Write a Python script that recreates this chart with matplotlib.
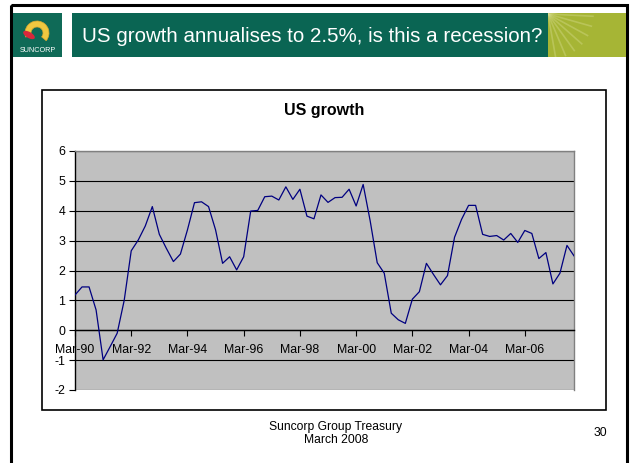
import matplotlib
matplotlib.use("Agg")
import matplotlib.pyplot as plt
import matplotlib.patches as mpatches
import numpy as np

plt.rcParams['font.family'] = ['Liberation Sans', 'DejaVu Sans']

# ---- data ----
slide_title = "US growth annualises to 2.5%, is this a recession?"
chart_title = "US growth"
footer_lines = ["Suncorp Group Treasury", "March 2008"]
page_number = "30"

# quarterly US GDP growth (% y/y), Mar-90 .. Dec-07
growth = [1.18, 1.45, 1.45, 0.68, -0.99, -0.55, -0.10, 1.00,
          2.66, 3.02, 3.49, 4.14, 3.21, 2.74, 2.30, 2.55,
          3.36, 4.27, 4.30, 4.14, 3.36, 2.24, 2.46, 2.02,
          2.46, 3.99, 4.01, 4.47, 4.49, 4.36, 4.80, 4.38,
          4.72, 3.82, 3.73, 4.53, 4.28, 4.44, 4.45, 4.72,
          4.16, 4.88, 3.66, 2.26, 1.91, 0.57, 0.35, 0.23,
          1.04, 1.29, 2.24, 1.87, 1.52, 1.83, 3.11, 3.71,
          4.18, 4.18, 3.21, 3.14, 3.17, 3.02, 3.24, 2.94,
          3.34, 3.24, 2.40, 2.60, 1.55, 1.91, 2.84, 2.49]
tick_labels = ["Mar-90", "Mar-92", "Mar-94", "Mar-96", "Mar-98",
               "Mar-00", "Mar-02", "Mar-04", "Mar-06"]
y_ticks = [-2, -1, 0, 1, 2, 3, 4, 5, 6]

W, H = 632, 463
fig = plt.figure(figsize=(W / 100, H / 100), dpi=100)
fig.patch.set_facecolor('white')

# background axes in pixel coordinates
bg = fig.add_axes([0, 0, 1, 1])
bg.set_xlim(0, W)
bg.set_ylim(H, 0)
bg.axis('off')

# slide frame
bg.add_patch(mpatches.Rectangle((11, 5), 616, 470, fill=False, ec='black', lw=2.2))

# logo box
green = '#0a6553'
bg.add_patch(mpatches.Rectangle((13, 13), 49, 44, fc='#0f6a57', ec='none'))
bg.add_patch(mpatches.Wedge((37, 33), 12, -200, 40, width=6, fc='#f0c840', ec='#d8a830', lw=0.5))
bg.add_patch(mpatches.Ellipse((29, 35), 13, 6, angle=30, fc='#d8283c', ec='none'))
bg.text(37.5, 51, "SUNCORP", color='white', fontsize=5.2, ha='center', va='center')

# title bar
bg.add_patch(mpatches.Rectangle((72, 13), 476, 44, fc=green, ec='none'))
olive = mpatches.Rectangle((548, 13), 78, 44, fc='#a6b535', ec='none')
bg.add_patch(olive)
# sunburst rays
for ang in np.linspace(-80, 10, 8):
    a = np.deg2rad(ang)
    ln, = bg.plot([548, 548 + 45 * np.cos(a)], [14, 14 - 45 * np.sin(a)],
                  color='#dde29a', lw=1.2, alpha=0.35)
    ln.set_clip_path(olive)
bg.text(82, 36, slide_title, color='white', fontsize=14.8, ha='left', va='center')

# chart box
bg.add_patch(mpatches.Rectangle((42, 90), 564, 320, fill=False, ec='black', lw=1.2))
bg.text(324, 111, chart_title, fontsize=11.5, fontweight='bold', ha='center', va='center')

# footer
bg.text(336, 430, footer_lines[0], fontsize=8.7, ha='center', va='baseline')
bg.text(336, 443, footer_lines[1], fontsize=8.7, ha='center', va='baseline')
bg.text(607, 436, page_number, fontsize=8.7, ha='right', va='baseline')

# plot area
L, R, T, B = 75, 574, 151, 390
ax = fig.add_axes([L / W, (H - B) / H, (R - L) / W, (B - T) / H])
ax.set_facecolor('#c0c0c0')
x = np.arange(len(growth))
ax.set_xlim(0, len(growth) - 1)
ax.set_ylim(-2, 6)
for yv in y_ticks:
    ax.axhline(yv, color='black', lw=0.8, zorder=1)
ax.plot(x, growth, color='#000080', lw=0.9, zorder=3)

ax.spines['bottom'].set_position(('data', 0))
ax.spines['bottom'].set_color('black')
ax.spines['bottom'].set_linewidth(1.0)
ax.spines['left'].set_color('black')
ax.spines['left'].set_linewidth(1.0)
ax.spines['top'].set_color('#808080')
ax.spines['right'].set_color('#808080')
ax.spines['top'].set_linewidth(1.0)
ax.spines['right'].set_linewidth(1.0)

ax.set_xticks(np.arange(0, len(growth), 8)[:len(tick_labels)])
ax.set_xticklabels(tick_labels, fontsize=8.9)
ax.set_yticks(y_ticks)
ax.set_yticklabels([str(v) for v in y_ticks], fontsize=8.9)
ax.tick_params(axis='x', direction='out', length=4, width=0.8, pad=6, color='black')
ax.tick_params(axis='y', direction='out', length=4, width=0.8, pad=3, color='black')

fig.savefig('out.png', dpi=100)
